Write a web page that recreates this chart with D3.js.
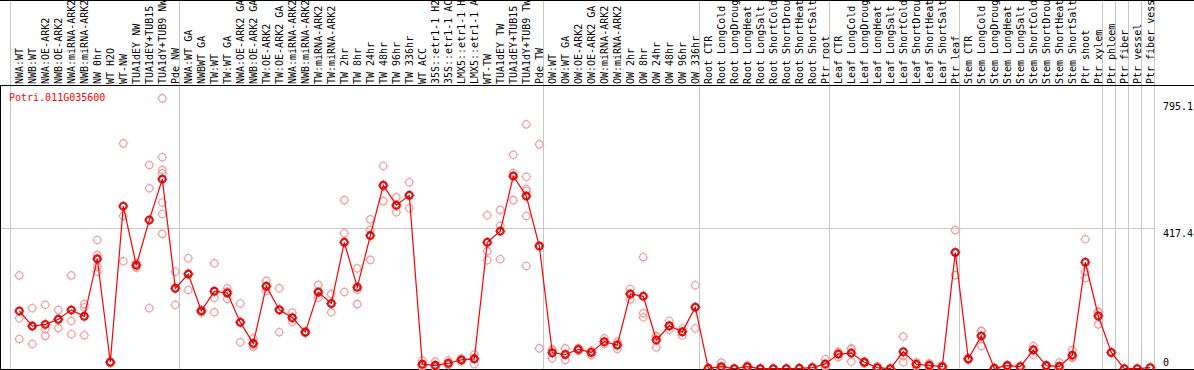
<!DOCTYPE html>
<html>
<head>
<meta charset="utf-8">
<script src="https://cdn.jsdelivr.net/npm/d3@7"></script>
<style>
  body { margin: 0; background: #fff; }
  text { font-family: "DejaVu Sans Mono", "Liberation Mono", monospace; font-size: 10px; }
</style>
</head>
<body>
<div id="chart"></div>
<script>
var GENE = "Potri.011G035600";
var LABEL_CHARS = 14; // label column only fits 14 characters

var categories = [
    "NWA:WT", "NWB:WT", "NWA:OE-ARK2", "NWB:OE-ARK2", "NWA:miRNA-ARK2", "NWB:miRNA-ARK2",
    "NW 0hr", "WT H2O", "WT-NW", "TUA1dEY NW", "TUA1dEY+TUB15 NW", "TUA1dY+TUB9 NW", "Pde NW",
    "NWA:WT GA", "NWBWT GA", "TW:WT", "TW:WT GA", "NWA:OE-ARK2 GA", "NWB:OE-ARK2 GA",
    "TW:OE-ARK2", "TW:OE-ARK2 GA", "NWA:miRNA-ARK2 GA", "NWB:miRNA-ARK2 GA", "TW:miRNA-ARK2",
    "TW:miRNA-ARK2 GA", "TW 2hr", "TW 8hr", "TW 24hr", "TW 48hr", "TW 96hr", "TW 336hr",
    "WT ACC", "35S::etr1-1 H2O", "35S::etr1-1 ACC", "LMX5::etr1-1 H2O", "LMX5::etr1-1 ACC",
    "WT-TW", "TUA1dEY TW", "TUA1dEY+TUB15 TW", "TUA1dY+TUB9 TW", "Pde TW",
    "OW:WT", "OW:WT GA", "OW:OE-ARK2", "OW:OE-ARK2 GA", "OW:miRNA-ARK2", "OW:miRNA-ARK2 GA",
    "OW 2hr", "OW 8hr", "OW 24hr", "OW 48hr", "OW 96hr", "OW 336hr",
    "Root CTR", "Root LongCold", "Root LongDrought", "Root LongHeat", "Root LongSalt",
    "Root ShortCold", "Root ShortDrought", "Root ShortHeat", "Root ShortSalt", "Ptr root",
    "Leaf CTR", "Leaf LongCold", "Leaf LongDrought", "Leaf LongHeat", "Leaf LongSalt",
    "Leaf ShortCold", "Leaf ShortDrought", "Leaf ShortHeat", "Leaf ShortSalt", "Ptr leaf",
    "Stem CTR", "Stem LongCold", "Stem LongDrought", "Stem LongHeat", "Stem LongSalt",
    "Stem ShortCold", "Stem ShortDrought", "Stem ShortHeat", "Stem ShortSalt", "Ptr shoot",
    "Ptr xylem", "Ptr phloem", "Ptr fiber", "Ptr vessel", "Ptr fiber vessel"
];

// first category index of each group (a grey separator is drawn before each)
var groupStarts = [0, 13, 41, 53, 63, 73, 84, 85, 86, 87];

// mean expression per category
var meanValues = [
    172, 127, 132, 147, 175, 156, 326, 20, 482, 307, 441, 562, 239,
    281, 172, 230, 225, 138, 76, 245, 175, 152, 109, 228, 194, 375, 242, 395, 544, 485, 514,
    14, 11, 17, 27, 30, 375, 408, 571, 512, 364,
    48, 43, 58, 49, 81, 71, 222, 215, 86, 128, 110, 183,
    2, 7, 1, 7, 1, 1, 1, 2, 4, 15,
    44, 47, 20, 4, 1, 51, 14, 11, 7, 345,
    30, 98, 2, 10, 7, 56, 10, 8, 41, 316, 157,
    49, 1, 1, 4
];

// individual replicates per category
var replicateValues = [
    [277, 150, 89], [180, 127, 74], [190, 118, 98], [175, 147, 121], [277, 142, 103],
    [192, 183, 100], [382, 337, 303, 288], [22, 20, 18], [668, 453, 319], [314, 307, 300],
    [604, 535, 180], [801, 627, 589, 579, 493, 459, 400], [288, 239, 190],
    [328, 282, 234], [176, 172, 167], [313, 211, 168], [239, 229, 207], [194, 140, 79],
    [91, 72, 66], [261, 245, 231], [239, 177, 109], [167, 150, 140], [112, 108, 106],
    [249, 225, 211], [222, 194, 168], [500, 402, 228], [298, 234, 192], [443, 412, 323],
    [601, 540, 497], [508, 482, 464], [553, 514, 476],
    [25, 10, 7], [22, 6, 5], [25, 14, 12], [31, 27, 22], [43, 32, 14],
    [455, 349, 322], [471, 424, 325], [634, 580, 500], [724, 569, 533, 527, 453, 305], [665, 61],
    [58, 55, 32], [61, 43, 27], [62, 58, 54], [55, 50, 41], [91, 80, 74], [81, 72, 59],
    [237, 222, 206], [331, 165, 153], [98, 96, 64], [143, 127, 116], [120, 110, 99], [248, 182, 120],
    [3, 2, 1], [19, 2, 0], [1, 1, 0], [10, 7, 4], [1, 1, 0], [1, 1, 0], [1, 1, 0], [3, 2, 1],
    [6, 4, 2], [29, 10, 6],
    [51, 47, 35], [61, 59, 22], [23, 20, 16], [8, 3, 1], [1, 1, 0], [96, 38, 20], [20, 14, 8],
    [17, 10, 6], [10, 7, 4], [411, 346, 278],
    [32, 30, 27], [113, 112, 68], [3, 2, 1], [12, 10, 8], [9, 7, 5], [68, 58, 42], [12, 10, 8],
    [19, 4, 1], [56, 36, 33], [384, 288, 269], [170, 168, 132],
    [49], [1], [1], [4]
];

var yTicks = [0, 417.4, 795.1];
var yGrid = [417.4];

var width = 1194,
    height = 370,
    labelBottom = 85,
    plotBottom = 369,
    step = 13,
    bandLeft = 11,
    pointOffset = 8.3;

var svg = d3.select("#chart")
    .append("svg")
        .attr("width", width)
        .attr("height", height);

/* Scales */
var x = d3.scaleBand()
    .domain(d3.range(categories.length))
    .range([bandLeft, bandLeft + step * categories.length]);
var y = d3.scaleLinear()
    .domain([0, 795.1])
    .range([plotBottom, 100.4]);

function px(i){ return x(i) + pointOffset; }

/* Grey separators */
var seps = groupStarts.map(function(i){ return x(i); }).concat([x.range()[1]]);
svg.selectAll(".sep")
    .data(seps)
    .enter()
    .append("line")
        .attr("class", "sep")
        .attr("x1", function(d){ return Math.round(d) - 0.5; })
        .attr("x2", function(d){ return Math.round(d) - 0.5; })
        .attr("y1", 0)
        .attr("y2", height)
        .attr("stroke", "#c8c8c8");

svg.selectAll(".hgrid")
    .data(yGrid)
    .enter()
    .append("line")
        .attr("class", "hgrid")
        .attr("x1", 0)
        .attr("x2", Math.round(x.range()[1]))
        .attr("y1", function(d){ return Math.round(y(d)) + 0.5; })
        .attr("y2", function(d){ return Math.round(y(d)) + 0.5; })
        .attr("stroke", "#c8c8c8");

/* Black frame */
svg.append("line").attr("x1", 0).attr("x2", width).attr("y1", 0.5).attr("y2", 0.5).attr("stroke", "#000");
svg.append("line").attr("x1", 0).attr("x2", width).attr("y1", labelBottom + 0.5).attr("y2", labelBottom + 0.5).attr("stroke", "#000");
svg.append("line").attr("x1", 0.5).attr("x2", 0.5).attr("y1", labelBottom).attr("y2", height).attr("stroke", "#000");
svg.append("line").attr("x1", 0).attr("x2", width).attr("y1", plotBottom + 0.5).attr("y2", plotBottom + 0.5).attr("stroke", "#000");

/* Category labels, vertical */
svg.append("g")
    .attr("class", "xlabels")
    .selectAll("text")
    .data(categories)
    .enter()
    .append("text")
        .attr("transform", function(d, i){ return "translate(" + (px(i) + 3.6) + "," + (labelBottom - 1) + ") rotate(-90)"; })
        .attr("fill", "#000")
        .text(function(d){ return d.slice(0, LABEL_CHARS); });

/* Value labels on the right */
svg.append("g")
    .attr("class", "ylabels")
    .selectAll("text")
    .data(yTicks)
    .enter()
    .append("text")
        .attr("x", x.range()[1] + 8)
        .attr("y", function(d){ return d === 0 ? y(d) - 3.5 : y(d) + 9.5; })
        .attr("fill", "#000")
        .text(function(d){ return d; });

/* Gene name */
svg.append("text")
    .attr("x", 9)
    .attr("y", 100.5)
    .attr("fill", "#f00")
    .text(GENE);

/* Markers: circle with four small ticks */
function marker(g, color, sw){
    g.append("circle")
        .attr("r", 3.7)
        .attr("fill", "none")
        .attr("stroke", color)
        .attr("stroke-width", sw);
    [[0, -1], [0, 1], [-1, 0], [1, 0]].forEach(function(t){
        g.append("line")
            .attr("x1", t[0] * 4.2)
            .attr("y1", t[1] * 4.2)
            .attr("x2", t[0] * 5.2)
            .attr("y2", t[1] * 5.2)
            .attr("stroke", color)
            .attr("stroke-width", 0.8);
    });
}

var reps = [];
replicateValues.forEach(function(list, i){
    list.forEach(function(v){ reps.push({i: i, v: v}); });
});

svg.append("g")
    .attr("class", "reps")
    .selectAll("g")
    .data(reps)
    .enter()
    .append("g")
        .attr("transform", function(d){ return "translate(" + px(d.i) + "," + y(d.v) + ")"; })
        .each(function(){ marker(d3.select(this), "#eea0a0", 1.2); });

/* Mean line */
var line = d3.line()
    .x(function(d, i){ return px(i); })
    .y(function(d){ return y(d); });

svg.append("path")
    .datum(meanValues)
    .attr("fill", "none")
    .attr("stroke", "#f00")
    .attr("stroke-width", 1.2)
    .attr("d", line);

var means = svg.append("g")
    .attr("class", "means")
    .selectAll("g")
    .data(meanValues)
    .enter()
    .append("g")
        .attr("transform", function(d, i){ return "translate(" + px(i) + "," + y(d) + ")"; })
        .each(function(){ marker(d3.select(this), "#f00", 1.6); });

means.append("circle")
    .attr("r", 2.7)
    .attr("fill", "none")
    .attr("stroke", "#500")
    .attr("stroke-width", 0.7);
</script>
</body>
</html>
